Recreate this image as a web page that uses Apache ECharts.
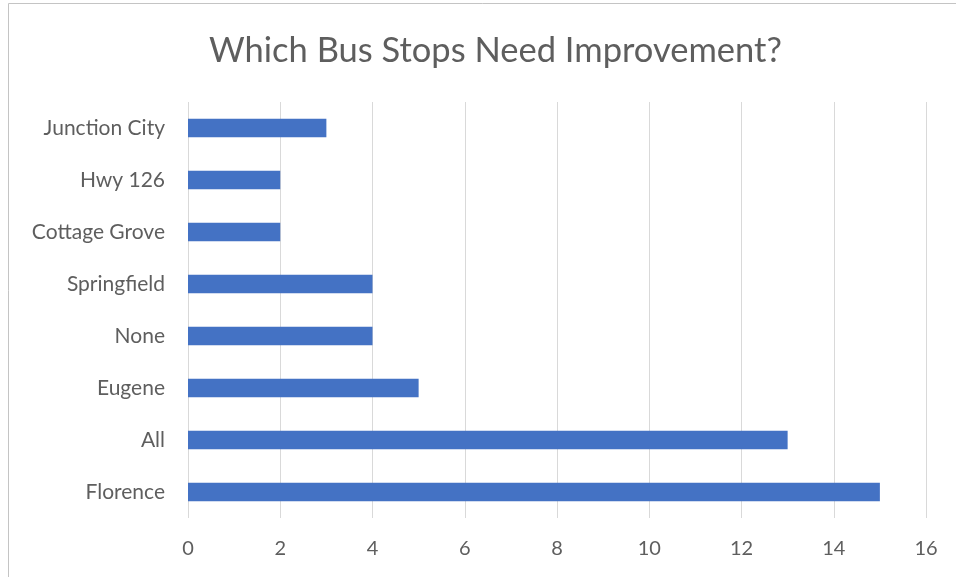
<!DOCTYPE html>
<html><head><meta charset="utf-8">
<script src="https://cdn.jsdelivr.net/npm/echarts@6/dist/echarts.min.js"></script>
<style>html,body{margin:0;padding:0;background:#fff}#c{width:956px;height:577px}</style>
</head><body><div id="c"></div>
<script>
const categories = ["Florence", "All", "Eugene", "None", "Springfield", "Cottage Grove", "Hwy 126", "Junction City"];
const values = [15, 13, 5, 4, 4, 2, 2, 3];
const title = "Which Bus Stops Need Improvement?";

const chart = echarts.init(document.getElementById('c'), null, {renderer: 'canvas'});
chart.setOption({
  animation: false,
  backgroundColor: '#fff',
  title: {
    text: title, left: 204, top: 28,
    textStyle: {fontFamily: 'Lato', fontSize: 34.5, fontWeight: 'normal', color: '#5e5e5e'}
  },
  graphic: [{type: 'rect', shape: {x: 8.5, y: 3.5, width: 1000, height: 1000}, style: {fill: 'none', stroke: '#c4c4c4', lineWidth: 1}}],
  grid: {left: 188, right: 30, top: 102, bottom: 59, containLabel: false},
  xAxis: {
    type: 'value', min: 0, max: 16, interval: 2,
    axisLine: {show: false}, axisTick: {show: false},
    axisLabel: {fontFamily: 'Lato', fontSize: 20, color: '#5e5e5e', margin: 21},
    splitLine: {lineStyle: {color: '#d9d9d9', width: 1}}
  },
  yAxis: {
    type: 'category', data: categories,
    axisLine: {show: false}, axisTick: {show: false},
    axisLabel: {fontFamily: 'Lato', fontSize: 21, color: '#5e5e5e', margin: 23}
  },
  series: [{type: 'bar', data: values, barWidth: '36%', itemStyle: {color: '#4472C4'}}]
});
</script></body></html>
